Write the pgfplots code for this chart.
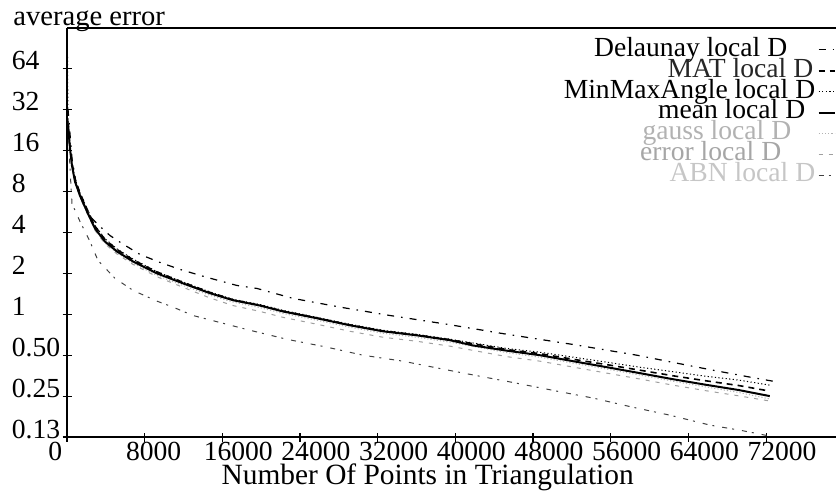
\documentclass[border=0pt]{standalone}
\usepackage{fontspec}
\setmainfont{Liberation Serif}
\usepackage{pgfplots}
\pgfplotsset{compat=1.18}

% average error of the local-D refinement for each triangulation criterion
\pgfplotstableread{
x      y
103    32.5
515    13.97
1030   8.42
1647   6.53
2368   5.24
3398   4.43
4427   3.80
5663   3.32
7516   2.76
9575   2.41
11634  2.14
14414  1.87
17503  1.63
19562  1.55
23269  1.31
28108  1.13
33256  0.98
39125  0.845
45302  0.713
52098  0.60
58687  0.50
62806  0.437
66513  0.388
70322  0.345
72690  0.322
}\delaunay

\pgfplotstableread{
x      y
103    26.5
309    17.3
515    13.0
824    9.9
1338   7.8
2059   5.95
2883   4.45
3912   3.55
5148   3.0
6795   2.52
9266   2.05
11943  1.72
14723  1.45
17091  1.28
19871  1.165
22239  1.055
25740  0.94
29138  0.835
32535  0.755
36036  0.705
39434  0.65
45302  0.55
48700  0.513
52098  0.467
55598  0.426
58996  0.388
62394  0.353
65792  0.324
69189  0.299
72381  0.272
}\mat

\pgfplotstableread{
x      y
40     100
103    27
309    17.4
515    13.0
824    9.96
1338   7.87
2059   6.0
2883   4.5
3912   3.6
5148   3.03
6795   2.55
9266   2.06
11943  1.73
14723  1.46
17091  1.29
19871  1.18
22239  1.07
25740  0.95
29138  0.845
32535  0.763
36036  0.712
39434  0.656
45302  0.56
48700  0.526
52098  0.484
55598  0.444
58996  0.408
62394  0.378
65792  0.35
69189  0.328
72381  0.301
}\minmax

\pgfplotstableread{
x      y
103    25.3
309    16.55
515    12.4
824    9.47
1338   7.48
2059   5.71
2883   4.28
3912   3.43
5148   2.90
6795   2.45
9266   2.00
11943  1.69
14723  1.43
17091  1.27
19871  1.16
22239  1.05
25740  0.935
29138  0.83
32535  0.75
36036  0.70
39434  0.645
41802  0.59
45302  0.54
48700  0.50
52098  0.452
55598  0.408
58996  0.369
62394  0.333
65792  0.303
69189  0.277
72381  0.25
}\meanD

\pgfplotstableread{
x      y
103    25.3
309    16.5
515    12.3
824    9.4
1338   7.4
2059   5.6
2883   4.2
3912   3.35
5148   2.83
6795   2.38
9266   1.93
11943  1.63
14723  1.38
17091  1.23
19871  1.12
22239  1.015
25740  0.904
29138  0.803
32535  0.725
36036  0.677
39434  0.624
45302  0.522
48700  0.483
52098  0.437
55598  0.395
58996  0.357
62394  0.322
65792  0.292
69189  0.266
72381  0.238
}\gauss

\pgfplotstableread{
x      y
103    25
309    16.3
515    12.2
824    9.3
1338   7.3
2059   5.55
2883   4.14
3912   3.3
5148   2.78
6795   2.33
9266   1.89
11943  1.58
14723  1.32
17091  1.16
19871  1.05
22239  0.95
25740  0.845
29138  0.75
32535  0.678
36036  0.633
39434  0.583
45302  0.488
48700  0.452
52098  0.409
55598  0.369
58996  0.334
62394  0.301
65792  0.274
69189  0.251
72381  0.23
}\errorD

\pgfplotstableread{
x      y
103    27.5
309    11.8
515    6.53
1338   4.82
2368   3.43
3192   2.49
4942   1.84
6795   1.50
9266   1.25
10914  1.13
12973  0.98
18842  0.763
22651  0.655
26770  0.573
30476  0.50
34595  0.452
38713  0.395
42522  0.35
46332  0.311
50450  0.272
54157  0.242
58275  0.207
62085  0.181
66204  0.153
69601  0.139
72381  0.127
}\abn

\begin{document}
\fontsize{13.8}{15}\selectfont
\begin{tikzpicture}[
  delstyle/.style={black, line width=0.6pt, dash pattern=on 3.5pt off 3.5pt on 0.8pt off 3.5pt},
  matstyle/.style={black, line width=0.8pt, dash pattern=on 3pt off 2.5pt},
  mmastyle/.style={black, line width=0.5pt, dash pattern=on 0.6pt off 1.2pt},
  meanstyle/.style={black, line width=1pt},
  gaussstyle/.style={gray!60, line width=0.5pt, dash pattern=on 0.6pt off 1pt},
  errstyle/.style={gray!75, line width=0.5pt, dash pattern=on 2pt off 3pt},
  abnstyle/.style={black!75, line width=0.5pt, dash pattern=on 2.5pt off 2.5pt on 1pt off 4pt},
]
\begin{axis}[
  scale only axis,
  width=384.5pt, height=204.5pt,
  clip=false,
  xmin=0, xmax=79200,
  ymode=log, log basis y=2,
  ymin=0.125, ymax=128,
  axis line style={draw=none},
  tick style={black, line width=0.6pt},
  major tick length=4.5pt,
  tick align=center,
  xtick pos=bottom, ytick pos=left,
  scaled x ticks=false,
  xtick={0,8000,16000,24000,32000,40000,48000,56000,64000,72000},
  xticklabels={0,8000,16000,24000,32000,40000,48000,56000,64000,72000},
  ytick={0.125,0.25,0.5,1,2,4,8,16,32,64},
  yticklabels={0.13,0.25,0.50,1,2,4,8,16,32,64},
  /pgf/number format/assume math mode=true,
  xticklabel style={anchor=north west, inner sep=0pt, xshift=-9.5pt, yshift=0pt},
  yticklabel style={anchor=base west, inner sep=0pt, xshift=-25.5pt, yshift=-0.5pt},
  xlabel={\fontsize{14.7}{15}\selectfont Number Of Points in Triangulation},
  x label style={at={(axis description cs:0.469,0)}, anchor=base, inner sep=0pt, yshift=-23.5pt},
  legend style={at={(axis description cs:1,1)}, anchor=north east, yshift=-5.5pt,
    draw=none, fill=none, inner sep=0pt, row sep=0pt,
    nodes={inner xsep=1.2pt, inner ysep=0pt, text height=8.45pt, text depth=2pt}},
  legend cell align=right,
  legend plot pos=right,
  legend image code/.code={\draw[#1] (0pt,0pt) -- (8pt,0pt);},
]
% curves, lighter ones first so the mean stays on top
\addplot[delstyle, forget plot] table {\delaunay};
\addplot[matstyle, forget plot] table {\mat};
\addplot[mmastyle, forget plot] table {\minmax};
\addplot[gaussstyle, forget plot] table {\gauss};
\addplot[errstyle, forget plot] table {\errorD};
\addplot[abnstyle, forget plot] table {\abn};
\addplot[meanstyle, forget plot] table {\meanD};

% legend in its printed order
\addlegendimage{delstyle}
\addlegendentry{Delaunay local D\hspace*{14pt}}
\addlegendimage{matstyle}
\addlegendentry{\textcolor{black!85}{MAT local D}\hspace*{1pt}}
\addlegendimage{mmastyle}
\addlegendentry{MinMaxAngle local D}
\addlegendimage{meanstyle}
\addlegendentry{mean local D\hspace*{5pt}}
\addlegendimage{gaussstyle}
\addlegendentry{\textcolor{gray!60}{gauss local D}\hspace*{12pt}}
\addlegendimage{errstyle}
\addlegendentry{\textcolor{gray!70}{error local D}\hspace*{17pt}}
\addlegendimage{abnstyle}
\addlegendentry{\textcolor{gray!45}{ABN local D}}

% frame: left, bottom and top lines only
\draw[line width=0.6pt] (rel axis cs:0,0) -- (rel axis cs:0,1);
\draw[line width=0.6pt] (rel axis cs:0,0) -- (rel axis cs:1,0);
\draw[line width=0.6pt] (rel axis cs:0,1) -- (rel axis cs:1,1);
\node[anchor=base west, inner sep=0pt, xshift=-27pt, yshift=1.2pt] at (rel axis cs:0,1) {\fontsize{14.3}{15}\selectfont average error};
\coordinate (SW) at (rel axis cs:0,0);
\coordinate (NE) at (rel axis cs:1,1);
\end{axis}
\pgfresetboundingbox
\path[use as bounding box] ([xshift=-33.5pt, yshift=-27pt]SW) rectangle ([yshift=14pt]NE);
\end{tikzpicture}
\end{document}
